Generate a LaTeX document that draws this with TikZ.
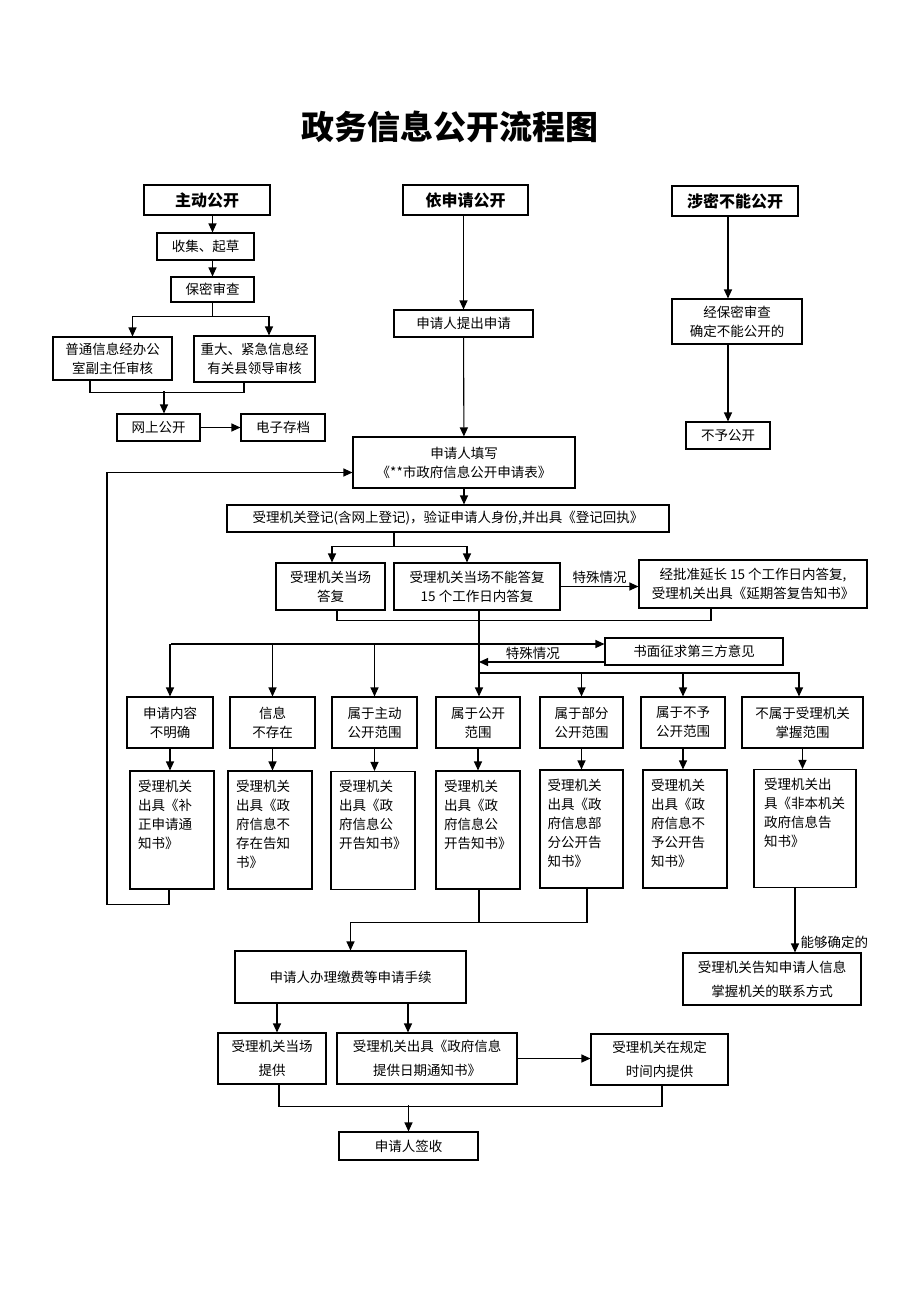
\documentclass[tikz,border=0pt]{standalone}
\usepackage{fontspec}
\setmainfont{Noto Sans CJK SC}
\usetikzlibrary{arrows.meta}
\newcommand{\noticetext}[2]{\parbox[c][100pt][t]{#1}{\raggedright #2}}

\begin{document}
\begin{tikzpicture}[x=1pt, y=-1pt, line width=1.1pt,
    >={Triangle[length=9pt, width=8pt]},
    box/.style={draw, line width=1.1pt, inner sep=0pt, align=center, font=\fontsize{13.5}{19}\selectfont},
    tallbox/.style={box, font=\fontsize{13.5}{24}\selectfont},
    head/.style={box, font=\bfseries\fontsize{16}{16}\selectfont},
    notice/.style={box, minimum height=118pt},
    lbl/.style={inner sep=2pt, font=\fontsize{13.5}{16}\selectfont}]
    \useasboundingbox (0,0) rectangle (920,1302);
    \node[font=\bfseries\fontsize{33}{33}\selectfont] (title) at (450,127) {政务信息公开流程图};
    % three heads
    \node[head, minimum width=126pt, minimum height=30pt] (hA) at (207,200) {主动公开};
    \node[head, minimum width=125pt, minimum height=30pt] (hB) at (465.5,200) {依申请公开};
    \node[head, minimum width=126pt, minimum height=30pt] (hC) at (735,201) {涉密不能公开};
    % left column
    \node[box, minimum width=97pt, minimum height=27pt] (a1) at (205.5,246.5) {收集、起草};
    \node[box, minimum width=83pt, minimum height=25pt] (a2) at (212.5,289.5) {保密审查};
    \node[box, minimum width=119pt, minimum height=43pt] (a3) at (112.5,358.5) {普通信息经办公\\室副主任审核};
    \node[box, minimum width=121pt, minimum height=46pt] (a4) at (254.5,359) {重大、紧急信息经\\有关县领导审核};
    \node[box, minimum width=83pt, minimum height=27pt] (a5) at (158.5,427.5) {网上公开};
    \node[box, minimum width=84pt, minimum height=27pt] (a6) at (283,427.5) {电子存档};
    % right column
    \node[box, minimum width=130pt, minimum height=45pt] (k1) at (737,321.5) {经保密审查\\确定不能公开的};
    \node[box, minimum width=84pt, minimum height=27pt] (k2) at (728,435.5) {不予公开};
    % middle column
    \node[box, minimum width=139pt, minimum height=27pt] (b1) at (463.5,323.5) {申请人提出申请};
    \node[box, minimum width=222pt, minimum height=51pt] (b2) at (464,462.5) {申请人填写\\《**市政府信息公开申请表》};
    \node[box, minimum width=442pt, minimum height=27pt] (b3) at (448,518.5) {受理机关登记(含网上登记)，验证申请人身份,并出具《登记回执》};
    \node[box, minimum width=109pt, minimum height=47pt] (b4) at (330.5,586.5) {受理机关当场\\答复};
    \node[box, minimum width=166pt, minimum height=47pt] (b5) at (477,586.5) {受理机关当场不能答复\\15 个工作日内答复};
    \node[box, minimum width=228pt, minimum height=48pt] (b6) at (753,584) {经批准延长 15 个工作日内答复,\\受理机关出具《延期答复告知书》};
    \node[box, minimum width=178pt, minimum height=27pt] (b7) at (694,651.5) {书面征求第三方意见};
    % cases
    \node[box, minimum width=86pt, minimum height=51pt] (c1) at (170,722.5) {申请内容\\不明确};
    \node[box, minimum width=85pt, minimum height=51pt] (c2) at (272.5,722.5) {信息\\不存在};
    \node[box, minimum width=85pt, minimum height=51pt] (c3) at (374.5,722.5) {属于主动\\公开范围};
    \node[box, minimum width=84pt, minimum height=51pt] (c4) at (478,722.5) {属于公开\\范围};
    \node[box, minimum width=83pt, minimum height=51pt] (c5) at (581.5,722.5) {属于部分\\公开范围};
    \node[box, minimum width=84pt, minimum height=51pt] (c6) at (683,722.5) {属于不予\\公开范围};
    \node[box, minimum width=121pt, minimum height=51pt] (c7) at (802.5,722.5) {不属于受理机关\\掌握范围};
    % notices
    \node[notice, minimum width=84pt] (d1) at (172,830) {\noticetext{68pt}{受理机关\\出具《补\\正申请通\\知书》}};
    \node[notice, minimum width=84pt] (d2) at (270,830) {\noticetext{68pt}{受理机关\\出具《政\\府信息不\\存在告知\\书》}};
    \node[notice, minimum width=84pt] (d3) at (373,830.5) {\noticetext{68pt}{受理机关\\出具《政\\府信息公\\开告知书》}};
    \node[notice, minimum width=84pt] (d4) at (478,830) {\noticetext{68pt}{受理机关\\出具《政\\府信息公\\开告知书》}};
    \node[notice, minimum width=83pt] (d5) at (581.5,829) {\noticetext{68pt}{受理机关\\出具《政\\府信息部\\分公开告\\知书》}};
    \node[notice, minimum width=84pt] (d6) at (685,829) {\noticetext{68pt}{受理机关\\出具《政\\府信息不\\予公开告\\知书》}};
    \node[notice, minimum width=102pt] (d7) at (805,828.5) {\noticetext{82pt}{受理机关出\\具《非本机关\\政府信息告\\知书》}};
    % bottom
    \node[box, minimum width=231pt, minimum height=52pt] (e1) at (350.5,977) {申请人办理缴费等申请手续};
    \node[tallbox, minimum width=178pt, minimum height=52pt] (e2) at (772,979) {受理机关告知申请人信息\\掌握机关的联系方式};
    \node[tallbox, minimum width=108pt, minimum height=51pt] (f1) at (272,1058.5) {受理机关当场\\提供};
    \node[tallbox, minimum width=180pt, minimum height=51pt] (f2) at (427,1058.5) {受理机关出具《政府信息\\提供日期通知书》};
    \node[tallbox, minimum width=137pt, minimum height=51pt] (f3) at (659.5,1059.5) {受理机关在规定\\时间内提供};
    \node[box, minimum width=139pt, minimum height=28pt] (g1) at (408.5,1146) {申请人签收};

    % connectors, left
    \draw[->] (hA.south -| a2) -- (a1.north -| a2);
    \draw[->] (a1.south -| a2) -- (a2);
    \draw[->] (a2.south) -- ++(0,14) -| ([xshift=20pt]a3.north);
    \draw[->] (a2.south) ++(0,14) -| ([xshift=14.5pt]a4.north);
    \draw ([xshift=-22.5pt]a3.south) -- ++(0,12) -| ([xshift=-10.5pt]a4.south);
    \draw[->] ([xshift=5.5pt]a5.north) ++(0,-22) -- ([xshift=5.5pt]a5.north);
    \draw[->] (a5) -- (a6);
    % connectors, right
    \draw[->] (hC.south -| k2) -- (k1.north -| k2);
    \draw[->] (k1.south -| k2) -- (k2);
    % connectors, middle
    \draw[->] (hB.south -| b1) -- (b1);
    \draw[->] (b1) -- (b2);
    \draw[->] (b2) -- (b2 |- b3.north);
    \draw[->] ([xshift=-54pt]b3.south) -- ++(0,14) -| ([xshift=1.5pt]b4.north);
    \draw[->] ([xshift=-54pt]b3.south) ++(0,14) -| ([xshift=-10pt]b5.north);
    \draw[->] (b5.east) -- (b5.east -| b6.west) node[lbl, midway, above] {特殊情况};
    \draw ([xshift=6.5pt]b4.south) -- ++(0,10) -| ([xshift=-42pt]b6.south);
    \draw[->] ([xshift=2pt]b5.south) -- ([xshift=2pt]b5.south |- c4.north);
    \coordinate (r1) at (171,644);
    \coordinate (r2) at (479,673);
    \draw[->] (r1) -- ([yshift=7.5pt]b7.west);
    \draw[->] ([yshift=-10.5pt]b7.west) -- ([yshift=-10.5pt]b7.west -| r2) node[lbl, pos=0.57, above] {特殊情况};
    \foreach \n in {c1,c2,c3}
        \draw[->] (r1 -| \n) -- (\n);
    \foreach \n in {c5,c6}
        \draw[->] (r2) -| (\n.north);
    \draw[->] (r2) -| ([xshift=-3.5pt]c7.north);
    \foreach \from/\to in {c1/d1, c2/d2, c3/d3, c4/d4, c5/d5, c6/d6, c7/d7}
        \draw[->] (\from) -- (\from |- \to.north);
    % back to the form
    \draw[->] ([xshift=-3pt]d1.south) -- ++(0,15) -- ++(-62,0) |- ([yshift=-10pt]b2.west);
    % bottom part
    \draw ([xshift=5.5pt]d5.south) -- ++(0,34) -| ([xshift=1pt]d4.south);
    \draw[->] ([xshift=5.5pt]d5.south) ++(0,34) -| (e1.north);
    \draw[->] ([xshift=-10pt]d7.south) -- ([xshift=-10pt]d7.south |- e2.north) node[lbl, pos=1, anchor=south west, xshift=4pt, yshift=2pt, inner sep=1pt] {能够确定的};
    \draw[->] ([xshift=-73.5pt]e1.south) -- ([xshift=-73.5pt]e1.south |- f1.north);
    \draw[->] ([xshift=57.5pt]e1.south) -- ([xshift=57.5pt]e1.south |- f2.north);
    \draw[->] (f2) -- (f2 -| f3.west);
    \draw ([xshift=7pt]f1.south) -- ++(0,22) -| ([xshift=2.5pt]f3.south);
    \draw[->] (g1.north) ++(0,-26) -- (g1.north);
\end{tikzpicture}
\end{document}
